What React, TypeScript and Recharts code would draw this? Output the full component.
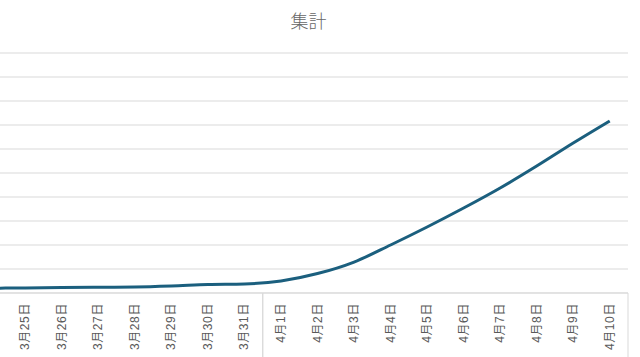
import { LineChart, Line, XAxis, YAxis, CartesianGrid } from 'recharts'

const categories = [
  '3月23日', '3月24日', '3月25日', '3月26日', '3月27日', '3月28日', '3月29日', '3月30日', '3月31日',
  '4月1日', '4月2日', '4月3日', '4月4日', '4月5日', '4月6日', '4月7日', '4月8日', '4月9日', '4月10日',
]
const totals = [190, 200, 210, 230, 240, 250, 290, 350, 375, 500, 810, 1290, 2000, 2750, 3540, 4375, 5290, 6250, 7170]
const groupLabels = ['3月', '4月']
const groupSizes = [9, 10]
const yTicks = [0, 1000, 2000, 3000, 4000, 5000, 6000, 7000, 8000, 9000, 10000]

const data = categories.map((name, i) => ({ name, total: totals[i] }))

const CHART_W = 740
const CHART_H = 357
const MARGIN = { top: 53, right: 12, left: 34, bottom: 0 }
const BAND = (CHART_W - MARGIN.left - MARGIN.right) / categories.length
const GRID = '#d9d9d9'
const TEXT = '#595959'
const FONT = '"Liberation Sans", "Noto Sans CJK JP", sans-serif'

// group start indexes (0, 9)
const groupStarts = groupSizes.map((_, g) => groupSizes.slice(0, g).reduce((a, b) => a + b, 0))

const CategoryTick = (props: any) => {
  const { x, y, payload, index } = props
  const axisY = y - 8
  const g = groupStarts.indexOf(index)
  const isGroupEnd = groupStarts.some((s, k) => s + groupSizes[k] - 1 === index)
  const labelY = axisY + 10
  const groupX = g >= 0 ? x + ((groupSizes[g] - 1) * BAND) / 2 : 0
  return (
    <g>
      <text
        x={x}
        y={labelY}
        transform={`rotate(-90, ${x}, ${labelY})`}
        textAnchor="end"
        dominantBaseline="central"
        fontSize={12}
        letterSpacing={0.6}
        fontFamily={FONT}
        fill={TEXT}
      >
        {payload.value}
      </text>
      {isGroupEnd && (
        <line x1={x + BAND / 2} x2={x + BAND / 2} y1={axisY} y2={CHART_H} stroke={GRID} />
      )}
      {g >= 0 && (
        <line x1={x - BAND / 2} x2={x - BAND / 2} y1={axisY} y2={CHART_H} stroke={GRID} />
      )}
      {g >= 0 && (
        <text
          x={groupX}
          y={axisY + 63}
          transform={`rotate(-90, ${groupX}, ${axisY + 63})`}
          textAnchor="end"
          dominantBaseline="central"
          fontSize={12}
          fontFamily={FONT}
          fill={TEXT}
        >
          {groupLabels[g]}
        </text>
      )}
    </g>
  )
}

export default function App() {
  return (
    <div
      style={{
        position: 'absolute',
        left: 0,
        top: 0,
        width: 640,
        height: 357,
        overflow: 'hidden',
        background: '#fff',
      }}
    >
      <div
        style={{
          position: 'absolute',
          left: 0,
          width: 617,
          top: 7,
          textAlign: 'center',
          fontSize: 18,
          fontWeight: 300,
          fontFamily: '"Noto Sans CJK JP", sans-serif',
          color: '#666666',
        }}
      >
        集計
      </div>
      <div style={{ position: 'absolute', left: -100, top: 0 }}>
        <LineChart width={CHART_W} height={CHART_H} data={data} margin={MARGIN}>
          <CartesianGrid vertical={false} stroke={GRID} strokeWidth={1} />
          <XAxis
            dataKey="name"
            interval={0}
            height={64}
            padding={{ left: BAND / 2, right: BAND / 2 }}
            axisLine={{ stroke: GRID }}
            tickLine={false}
            tick={<CategoryTick />}
          />
          <YAxis hide width={0} domain={[0, 10000]} ticks={yTicks} />
          <Line
            type="monotone"
            dataKey="total"
            stroke="#1b5f7e"
            strokeWidth={3}
            dot={false}
            isAnimationActive={false}
          />
        </LineChart>
      </div>
    </div>
  )
}
